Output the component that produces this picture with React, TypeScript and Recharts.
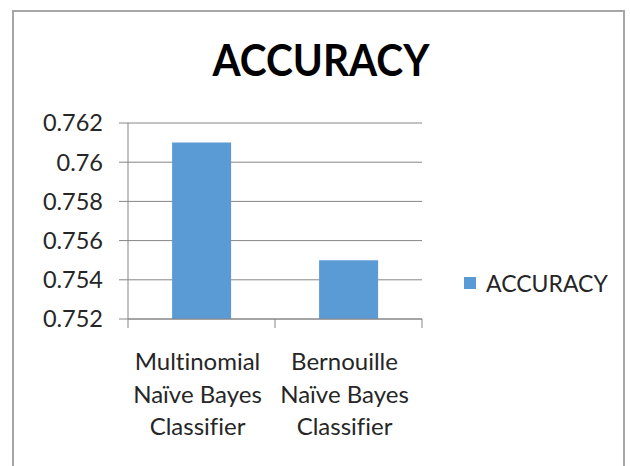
import React from "react";
import { BarChart, Bar, XAxis, YAxis, CartesianGrid, Legend } from "recharts";

const categories = ["Multinomial\nNaïve Bayes\nClassifier", "Bernouille\nNaïve Bayes\nClassifier"];
const accuracy = [0.761, 0.755];
const yTicks = [0.752, 0.754, 0.756, 0.758, 0.76, 0.762];
const seriesName = "ACCURACY";
const titleText = "ACCURACY";

const data = categories.map((c, i) => ({ name: c, idx: i, accuracy: accuracy[i] }));
const edgeTicks = [0, 0.5, 1, 1.5, 2];

const FONT = "Lato, 'Open Sans', sans-serif";
const TEXT = "#262626";
const GRID = "#868686";
const BLUE = "#5b9bd5";

const EdgeTick = (props: any) => {
  const { x, y, payload } = props;
  const v = payload.value;
  if (Number.isInteger(v)) {
    return <line x1={x} x2={x} y1={y} y2={y + 9} stroke={GRID} strokeWidth={1} />;
  }
  const idx = Math.floor(v);
  const label = categories[idx] || "";
  const lines = label.split("\n");
  return (
    <text
      x={x - 4}
      y={y}
      textAnchor="middle"
      fill={TEXT}
      fontSize={24}
      fontFamily={FONT}
      style={{ fontVariantLigatures: "none" }}
    >
      {lines.map((l, i) => (
        <tspan key={i} x={x - 4} dy={i === 0 ? 51 : 32.5}>
          {l}
        </tspan>
      ))}
    </text>
  );
};

const LegendContent = (props: any) => {
  const items = props.payload || [];
  return (
    <div style={{ height: 28 }}>
      {items.map((it: any, i: number) => (
        <div key={i} style={{ display: "flex", alignItems: "center", fontFamily: FONT, fontSize: 23, color: TEXT, lineHeight: "28px", height: 28 }}>
          <span style={{ display: "inline-block", width: 12, height: 12, background: BLUE, marginRight: 10 }} />
          <span>{it.value}</span>
        </div>
      ))}
    </div>
  );
};

export default function App() {
  return (
    <div style={{ position: "absolute", left: 0, top: 0, width: 630, height: 466, background: "#fff", overflow: "hidden" }}>
      <div
        style={{
          position: "absolute",
          left: 12,
          top: 10,
          width: 613,
          height: 500,
          border: "2px solid #a6a6a6",
          boxSizing: "border-box",
        }}
      />
      <svg width={630} height={100} style={{ position: "absolute", left: 0, top: 0 }}>
        <text
          x={321}
          y={76}
          textAnchor="middle"
          fontFamily={FONT}
          fontWeight="bold"
          fontSize={43}
          fill="#000"
          textLength={217}
          lengthAdjust="spacingAndGlyphs"
        >
          {titleText}
        </text>
      </svg>
      <div style={{ position: "absolute", left: 0, top: 0 }}>
        <BarChart
          width={630}
          height={466}
          data={data}
          margin={{ top: 123, right: 208, bottom: 9, left: 0 }}
          barCategoryGap="30%"
        >
          <CartesianGrid vertical={false} stroke={GRID} strokeDasharray="" />
          <XAxis
            xAxisId="edge"
            dataKey="idx"
            type="number"
            domain={[0, 2]}
            ticks={edgeTicks}
            interval={0}
            allowDataOverflow
            height={110}
            tickSize={0}
            tickMargin={0}
            tickLine={false}
            axisLine={{ stroke: GRID }}
            tick={<EdgeTick />}
          />
          <XAxis xAxisId="cat" dataKey="name" type="category" hide height={0} />
          <YAxis
            type="number"
            domain={[0.752, 0.762]}
            ticks={yTicks}
            interval={0}
            allowDataOverflow
            width={128}
            tickSize={9}
            tickMargin={16}
            axisLine={{ stroke: GRID }}
            tickLine={{ stroke: GRID }}
            tick={{ fill: TEXT, fontSize: 23.5, fontFamily: FONT }}
            tickFormatter={(v: number) => String(v)}
          />
          <Legend
            content={<LegendContent />}
            wrapperStyle={{ position: "absolute", left: 464, top: 269, width: 160 }}
          />
          <Bar xAxisId="cat" dataKey="accuracy" name={seriesName} fill={BLUE} isAnimationActive={false} />
        </BarChart>
      </div>
    </div>
  );
}
